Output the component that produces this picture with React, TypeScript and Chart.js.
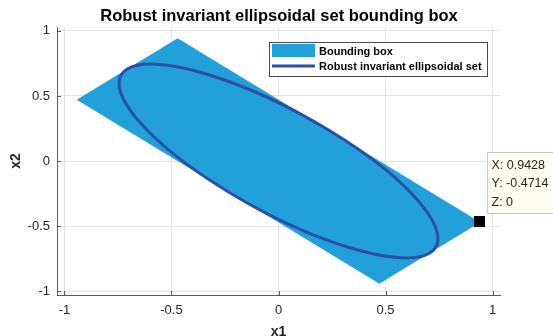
import React, { useEffect, useRef } from "react";
import { Chart, registerables } from "chart.js";

Chart.register(...registerables);

// ---- data ----
const TITLE = "Robust invariant ellipsoidal set bounding box";
const X_LABEL = "x1";
const Y_LABEL = "x2";
const X_TICKS = [-1, -0.5, 0, 0.5, 1];
const Y_TICKS = [-1, -0.5, 0, 0.5, 1];
const X_RANGE = [-1.035, 1.035];
const Y_RANGE = [-1.03, 1.03];

// bounding box vertices (closed polygon)
const BOX_X1 = [-0.4714, 0.9428, 0.4714, -0.9428, -0.4714];
const BOX_X2 = [0.9428, -0.4714, -0.9428, 0.4714, 0.9428];

// robust invariant ellipsoidal set
const ELLIPSE_CENTER = [0, 0];
const ELLIPSE_SEMI_AXES = [1.0, 0.3333];
const ELLIPSE_ANGLE_DEG = -45;

// data tip
const TIP_X = 0.9428;
const TIP_Y = -0.4714;
const TIP_Z = 0;

const LEGEND_LABELS = ["Bounding box", "Robust invariant ellipsoidal set"];

// ---- styles ----
const FILL_COLOR = "#21a0da";
const ELLIPSE_COLOR = "#2c4ea6";
const AXIS_COLOR = "#5a5a5a";
const GRID_COLOR = "#e3e3e3";
const TEXT_COLOR = "#262626";
const FONT = "'Liberation Sans', Arial, Helvetica, sans-serif";

const overlayPlugin = {
  id: "matlabOverlay",
  afterDatasetsDraw(chart: any) {
    const ctx = chart.ctx as CanvasRenderingContext2D;
    const xs = chart.scales.x;
    const ys = chart.scales.y;
    const area = chart.chartArea;

    // ellipse
    const px0 = xs.getPixelForValue(0);
    const py0 = ys.getPixelForValue(0);
    const sx = xs.getPixelForValue(1) - px0;
    const sy = ys.getPixelForValue(1) - py0;
    ctx.save();
    ctx.beginPath();
    ctx.save();
    ctx.transform(sx, 0, 0, sy, px0, py0);
    ctx.ellipse(
      ELLIPSE_CENTER[0],
      ELLIPSE_CENTER[1],
      ELLIPSE_SEMI_AXES[0],
      ELLIPSE_SEMI_AXES[1],
      (ELLIPSE_ANGLE_DEG * Math.PI) / 180,
      0,
      Math.PI * 2
    );
    ctx.restore();
    ctx.lineWidth = 3;
    ctx.strokeStyle = ELLIPSE_COLOR;
    ctx.stroke();
    ctx.restore();

    // inward ticks
    ctx.save();
    ctx.strokeStyle = AXIS_COLOR;
    ctx.lineWidth = 1;
    ctx.beginPath();
    for (const t of X_TICKS) {
      const x = Math.round(xs.getPixelForValue(t)) + 0.5;
      ctx.moveTo(x, area.bottom);
      ctx.lineTo(x, area.bottom - 4);
    }
    for (const t of Y_TICKS) {
      const y = Math.round(ys.getPixelForValue(t)) + 0.5;
      ctx.moveTo(area.left, y);
      ctx.lineTo(area.left + 4, y);
    }
    ctx.stroke();
    ctx.restore();

    // legend
    ctx.save();
    const lx = 269.5, ly = 42.5, lw = 218, lh = 34;
    ctx.fillStyle = "#ffffff";
    ctx.fillRect(lx, ly, lw, lh);
    ctx.strokeStyle = "#4a4a4a";
    ctx.lineWidth = 1;
    ctx.strokeRect(lx, ly, lw, lh);
    ctx.fillStyle = FILL_COLOR;
    ctx.fillRect(272, 44, 43, 13);
    ctx.strokeStyle = ELLIPSE_COLOR;
    ctx.lineWidth = 3;
    ctx.beginPath();
    ctx.moveTo(272, 66);
    ctx.lineTo(315, 66);
    ctx.stroke();
    ctx.fillStyle = "#000000";
    ctx.font = `bold 11px ${FONT}`;
    ctx.textBaseline = "middle";
    ctx.textAlign = "left";
    ctx.fillText(LEGEND_LABELS[0], 319, 52);
    ctx.fillText(LEGEND_LABELS[1], 319, 66.5);
    ctx.restore();

    // data tip marker
    const mx = xs.getPixelForValue(TIP_X);
    const my = ys.getPixelForValue(TIP_Y);
    ctx.save();
    ctx.fillStyle = "#000000";
    ctx.fillRect(Math.round(mx) - 6, Math.round(my) - 6, 11, 11);
    // data tip box
    const bx = Math.round(mx) + 7.5;
    const by = Math.round(my) - 69.5;
    ctx.fillStyle = "#fffdef";
    ctx.fillRect(bx, by, 120, 61);
    ctx.strokeStyle = "#c9c9c9";
    ctx.lineWidth = 1;
    ctx.strokeRect(bx, by, 120, 61);
    ctx.fillStyle = TEXT_COLOR;
    ctx.font = `12.5px ${FONT}`;
    ctx.textBaseline = "middle";
    ctx.textAlign = "left";
    ctx.fillText(`X: ${TIP_X}`, bx + 4, by + 13);
    ctx.fillText(`Y: ${TIP_Y}`, bx + 4, by + 31.5);
    ctx.fillText(`Z: ${TIP_Z}`, bx + 4, by + 50.5);
    ctx.restore();

    // title and axis labels
    ctx.save();
    ctx.fillStyle = "#000000";
    ctx.textAlign = "center";
    ctx.textBaseline = "alphabetic";
    ctx.font = `bold 16.5px ${FONT}`;
    ctx.fillText(TITLE, 279, 20.5);
    ctx.fillStyle = TEXT_COLOR;
    ctx.font = `bold 14px ${FONT}`;
    ctx.fillText(X_LABEL, (area.left + area.right) / 2, 336);
    ctx.translate(19.5, (area.top + area.bottom) / 2);
    ctx.rotate(-Math.PI / 2);
    ctx.fillText(Y_LABEL, 0, 0);
    ctx.restore();
  },
};

export default function App() {
  const canvasRef = useRef<HTMLCanvasElement | null>(null);

  useEffect(() => {
    const canvas = canvasRef.current;
    if (!canvas) return;
    const boxPoints = BOX_X1.map((x, i) => ({ x, y: BOX_X2[i] }));
    const chart = new Chart(canvas, {
      type: "scatter",
      data: {
        datasets: [
          {
            label: LEGEND_LABELS[0],
            data: boxPoints,
            showLine: true,
            fill: "shape",
            backgroundColor: FILL_COLOR,
            borderColor: FILL_COLOR,
            borderWidth: 0,
            pointRadius: 0,
            tension: 0,
          } as any,
        ],
      },
      options: {
        animation: false,
        responsive: false,
        devicePixelRatio: 1,
        layout: { padding: { top: 27, right: 53, left: 0, bottom: 0 } },
        plugins: {
          legend: { display: false },
          tooltip: { enabled: false },
          title: { display: false },
        },
        scales: {
          x: {
            type: "linear",
            min: X_RANGE[0],
            max: X_RANGE[1],
            afterBuildTicks: (s: any) => {
              s.ticks = X_TICKS.map((v) => ({ value: v }));
            },
            afterFit: (s: any) => {
              s.height = 41;
            },
            grid: { color: GRID_COLOR, drawTicks: false },
            border: { display: true, color: AXIS_COLOR, width: 1 },
            ticks: {
              color: TEXT_COLOR,
              padding: 8,
              font: { family: FONT, size: 13 },
              maxRotation: 0,
              callback: (v: any) => String(v),
            },
          },
          y: {
            type: "linear",
            min: Y_RANGE[0],
            max: Y_RANGE[1],
            afterBuildTicks: (s: any) => {
              s.ticks = Y_TICKS.map((v) => ({ value: v }));
            },
            afterFit: (s: any) => {
              s.width = 57;
            },
            grid: { color: GRID_COLOR, drawTicks: false },
            border: { display: true, color: AXIS_COLOR, width: 1 },
            ticks: {
              color: TEXT_COLOR,
              padding: 7,
              font: { family: FONT, size: 13 },
              callback: (v: any) => String(v),
            },
          },
        },
      },
      plugins: [overlayPlugin],
    });
    return () => chart.destroy();
  }, []);

  return (
    <div style={{ position: "fixed", left: 0, top: 0, width: 553, height: 336, background: "#ffffff" }}>
      <canvas ref={canvasRef} width={553} height={336} style={{ width: 553, height: 336, display: "block" }} />
    </div>
  );
}
